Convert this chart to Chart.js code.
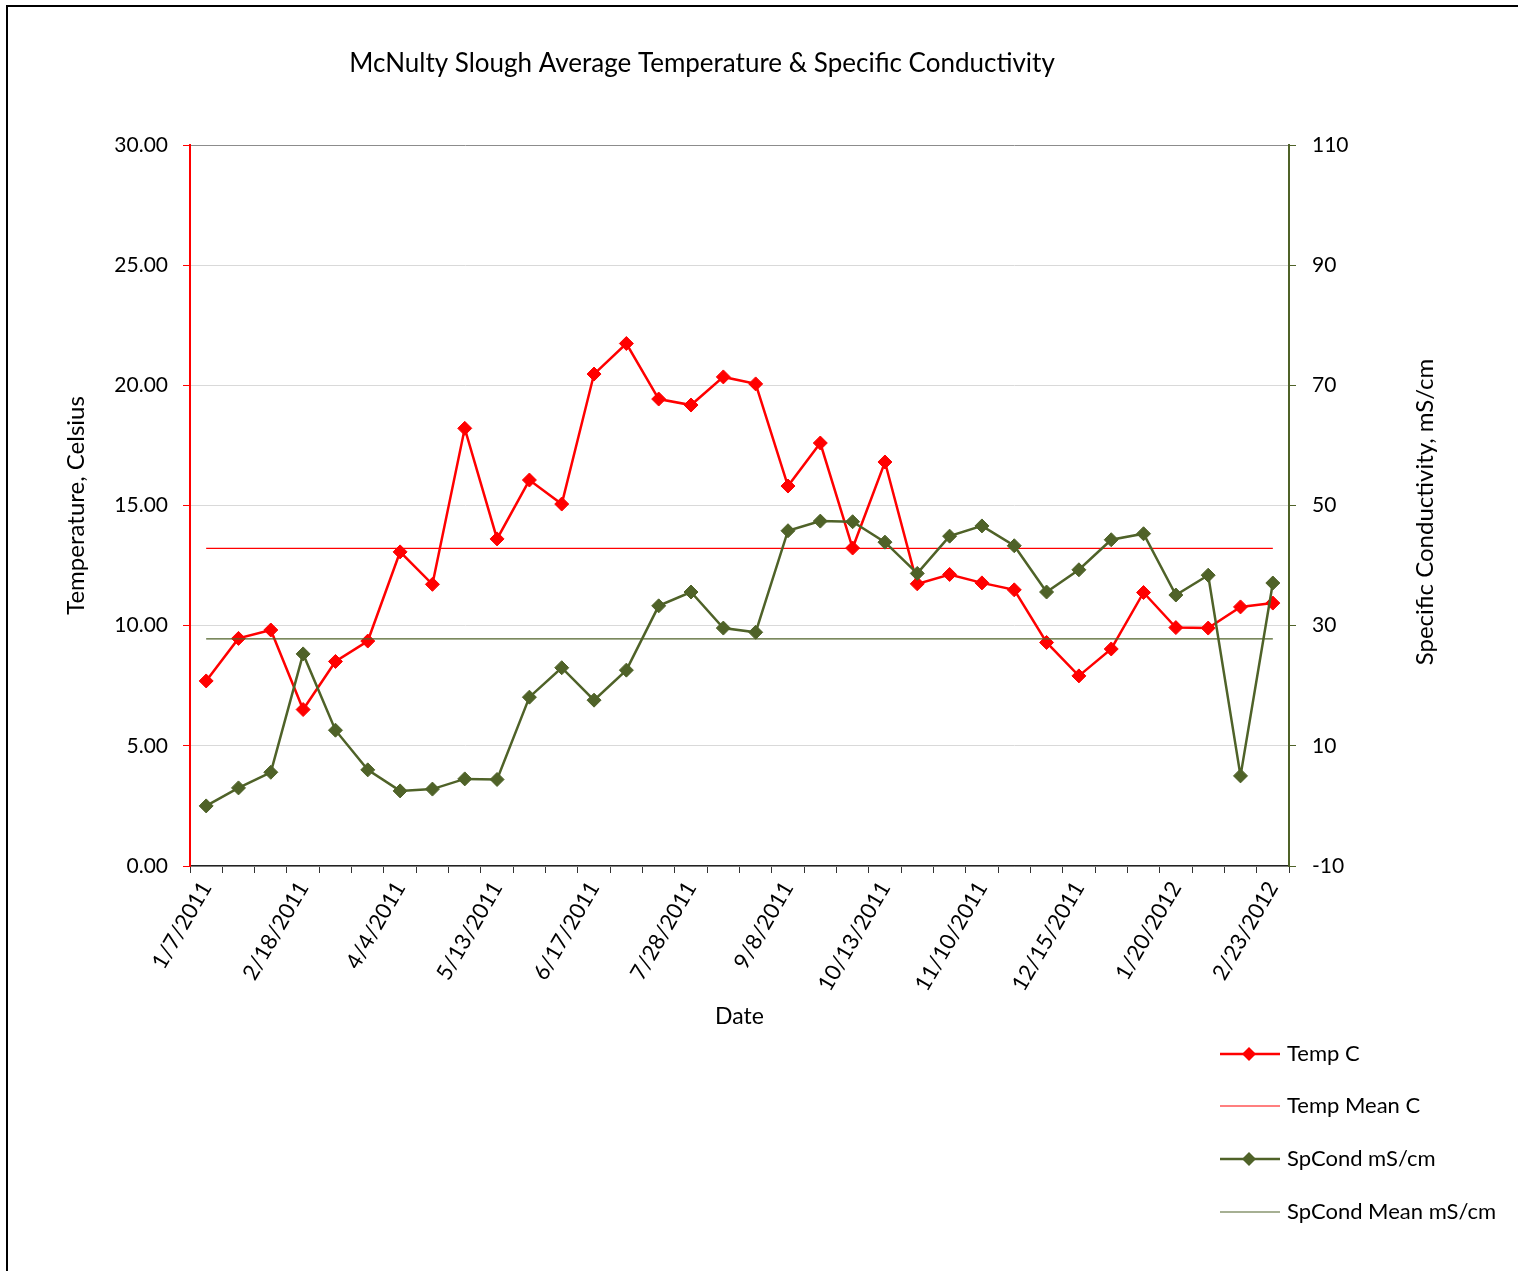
<!DOCTYPE html>
<html>
<head>
<meta charset="utf-8">
<title>McNulty Slough</title>
<script src="https://cdn.jsdelivr.net/npm/chart.js@4.4.1/dist/chart.umd.min.js"></script>
<style>
  html, body { margin: 0; padding: 0; background: #fff; }
  #wrap { width: 1518px; height: 1271px; position: relative; }
</style>
</head>
<body>
<div id="wrap"><canvas id="chart"></canvas></div>
<script>
// sample dates (only every third one is labelled on the axis)
const dates = [
  '1/7/2011', '1/21/2011', '2/4/2011', '2/18/2011', '3/4/2011', '3/18/2011',
  '4/4/2011', '4/15/2011', '4/29/2011', '5/13/2011', '5/27/2011', '6/3/2011',
  '6/17/2011', '7/1/2011', '7/15/2011', '7/28/2011', '8/11/2011', '8/25/2011',
  '9/8/2011', '9/22/2011', '9/29/2011', '10/13/2011', '10/20/2011', '10/27/2011',
  '11/10/2011', '11/17/2011', '12/1/2011', '12/15/2011', '12/29/2011', '1/5/2012',
  '1/20/2012', '2/3/2012', '2/9/2012', '2/23/2012'
];

const tempC = [
  7.70, 9.47, 9.82, 6.51, 8.51, 9.36, 13.07, 11.72, 18.21, 13.61, 16.06, 15.06,
  20.47, 21.74, 19.43, 19.18, 20.35, 20.06, 15.81, 17.60, 13.23, 16.81, 11.74, 12.13,
  11.78, 11.49, 9.30, 7.91, 9.03, 11.38, 9.92, 9.90, 10.78, 10.94
];

const spCond = [
  0.0, 3.0, 5.6, 25.3, 12.6, 6.0, 2.5, 2.8, 4.5, 4.4, 18.1, 23.0,
  17.6, 22.6, 33.3, 35.6, 29.6, 28.9, 45.8, 47.4, 47.3, 43.9, 38.7, 44.9,
  46.6, 43.3, 35.6, 39.3, 44.3, 45.3, 35.1, 38.4, 5.0, 37.1
];

const tempMean = 13.22;
const spCondMean = 27.8;

const tempTicks = [0, 5, 10, 15, 20, 25, 30];
const spCondTicks = [-10, 10, 30, 50, 70, 90, 110];

const RED = '#ff0000';
const OLIVE = '#4f6228';
const FONT = 'Lato, "Open Sans", sans-serif';

Chart.defaults.font.family = FONT;
Chart.defaults.font.size = 21;
Chart.defaults.color = '#000';

// title, right axis title, legend and outer frame
const decor = {
  id: 'decor',
  afterDraw(chart) {
    const ctx = chart.ctx;
    ctx.save();
    ctx.strokeStyle = '#000';
    ctx.lineWidth = 2;
    ctx.beginPath();
    ctx.moveTo(7, 1271);
    ctx.lineTo(7, 6);
    ctx.lineTo(1518, 6);
    ctx.stroke();

    ctx.fillStyle = '#000';
    ctx.textBaseline = 'middle';
    ctx.textAlign = 'center';
    ctx.font = '26px ' + FONT;
    ctx.fillText('McNulty Slough Average Temperature & Specific Conductivity', 702, 64);

    ctx.save();
    ctx.translate(1425, 512);
    ctx.rotate(-Math.PI / 2);
    ctx.font = '24px ' + FONT;
    ctx.fillText('Specific Conductivity, mS/cm', 0, 0);
    ctx.restore();

    // legend, stacked at the bottom right
    ctx.textAlign = 'left';
    ctx.font = '22px ' + FONT;
    const rows = [1054, 1106, 1159, 1212];
    chart.data.datasets.forEach((ds, i) => {
      const y = rows[i];
      ctx.strokeStyle = ds.borderColor;
      ctx.lineWidth = ds.borderWidth;
      ctx.beginPath();
      ctx.moveTo(1220, y);
      ctx.lineTo(1280, y);
      ctx.stroke();
      if (ds.pointRadius > 0) {
        ctx.fillStyle = ds.borderColor;
        const r = ds.pointRadius;
        ctx.beginPath();
        ctx.moveTo(1249, y - r);
        ctx.lineTo(1249 + r, y);
        ctx.lineTo(1249, y + r);
        ctx.lineTo(1249 - r, y);
        ctx.closePath();
        ctx.fill();
      }
      ctx.fillStyle = '#000';
      ctx.fillText(ds.label, 1287, y);
    });
    ctx.restore();
  }
};

new Chart(document.getElementById('chart'), {
  type: 'line',
  data: {
    labels: dates,
    datasets: [{
      label: 'Temp C',
      data: tempC,
      yAxisID: 'y',
      borderColor: RED,
      backgroundColor: RED,
      borderWidth: 2.5,
      pointStyle: 'rectRot',
      pointRadius: 7,
      pointHoverRadius: 7,
      pointBorderWidth: 1,
      tension: 0,
      order: 2
    }, {
      label: 'Temp Mean C',
      data: [{x: dates[0], y: tempMean}, {x: dates[dates.length - 1], y: tempMean}],
      yAxisID: 'y',
      borderColor: RED,
      borderWidth: 1.2,
      pointRadius: 0,
      order: 3
    }, {
      label: 'SpCond mS/cm',
      data: spCond,
      yAxisID: 'y1',
      borderColor: OLIVE,
      backgroundColor: OLIVE,
      borderWidth: 2.5,
      pointStyle: 'rectRot',
      pointRadius: 7,
      pointHoverRadius: 7,
      pointBorderWidth: 1,
      tension: 0,
      order: 0
    }, {
      label: 'SpCond Mean mS/cm',
      data: [{x: dates[0], y: spCondMean}, {x: dates[dates.length - 1], y: spCondMean}],
      yAxisID: 'y1',
      borderColor: OLIVE,
      borderWidth: 1.2,
      pointRadius: 0,
      order: 1
    }]
  },
  options: {
    responsive: true,
    maintainAspectRatio: false,
    animation: false,
    layout: {
      padding: { top: 145, left: 0, right: 0, bottom: 235 }
    },
    scales: {
      x: {
        offset: true,
        grid: {
          offset: true,
          drawOnChartArea: false,
          tickLength: 7,
          color: '#333'
        },
        border: { color: '#222', width: 1.5 },
        ticks: {
          autoSkip: false,
          minRotation: 60,
          maxRotation: 60,
          padding: 4,
          font: { size: 22 },
          callback: (v, i) => i % 3 === 0 ? dates[i] : ''
        },
        title: {
          display: true,
          text: 'Date',
          font: { size: 23 },
          padding: { top: 0, bottom: 6 }
        },
        afterFit: s => { s.height = 170; }
      },
      y: {
        position: 'left',
        min: 0,
        max: 30,
        afterBuildTicks: s => { s.ticks = tempTicks.map(v => ({ value: v })); },
        ticks: {
          padding: 15,
          callback: v => v.toFixed(2)
        },
        grid: {
          color: c => c.tick && c.tick.value === 30 ? '#8c8c8c' : '#d9d9d9',
          tickColor: RED,
          tickLength: 7
        },
        border: { color: RED, width: 2 },
        title: {
          display: true,
          text: 'Temperature, Celsius',
          font: { size: 24 },
          padding: { top: 62 }
        },
        afterFit: s => { s.width = 190; }
      },
      y1: {
        position: 'right',
        min: -10,
        max: 110,
        afterBuildTicks: s => { s.ticks = spCondTicks.map(v => ({ value: v })); },
        ticks: { padding: 16 },
        grid: {
          drawOnChartArea: false,
          tickColor: OLIVE,
          tickLength: 7
        },
        border: { color: OLIVE, width: 2 },
        afterFit: s => { s.width = 229; }
      }
    },
    plugins: {
      legend: { display: false },
      title: { display: false },
      tooltip: { enabled: false }
    }
  },
  plugins: [decor]
});
</script>
</body>
</html>
